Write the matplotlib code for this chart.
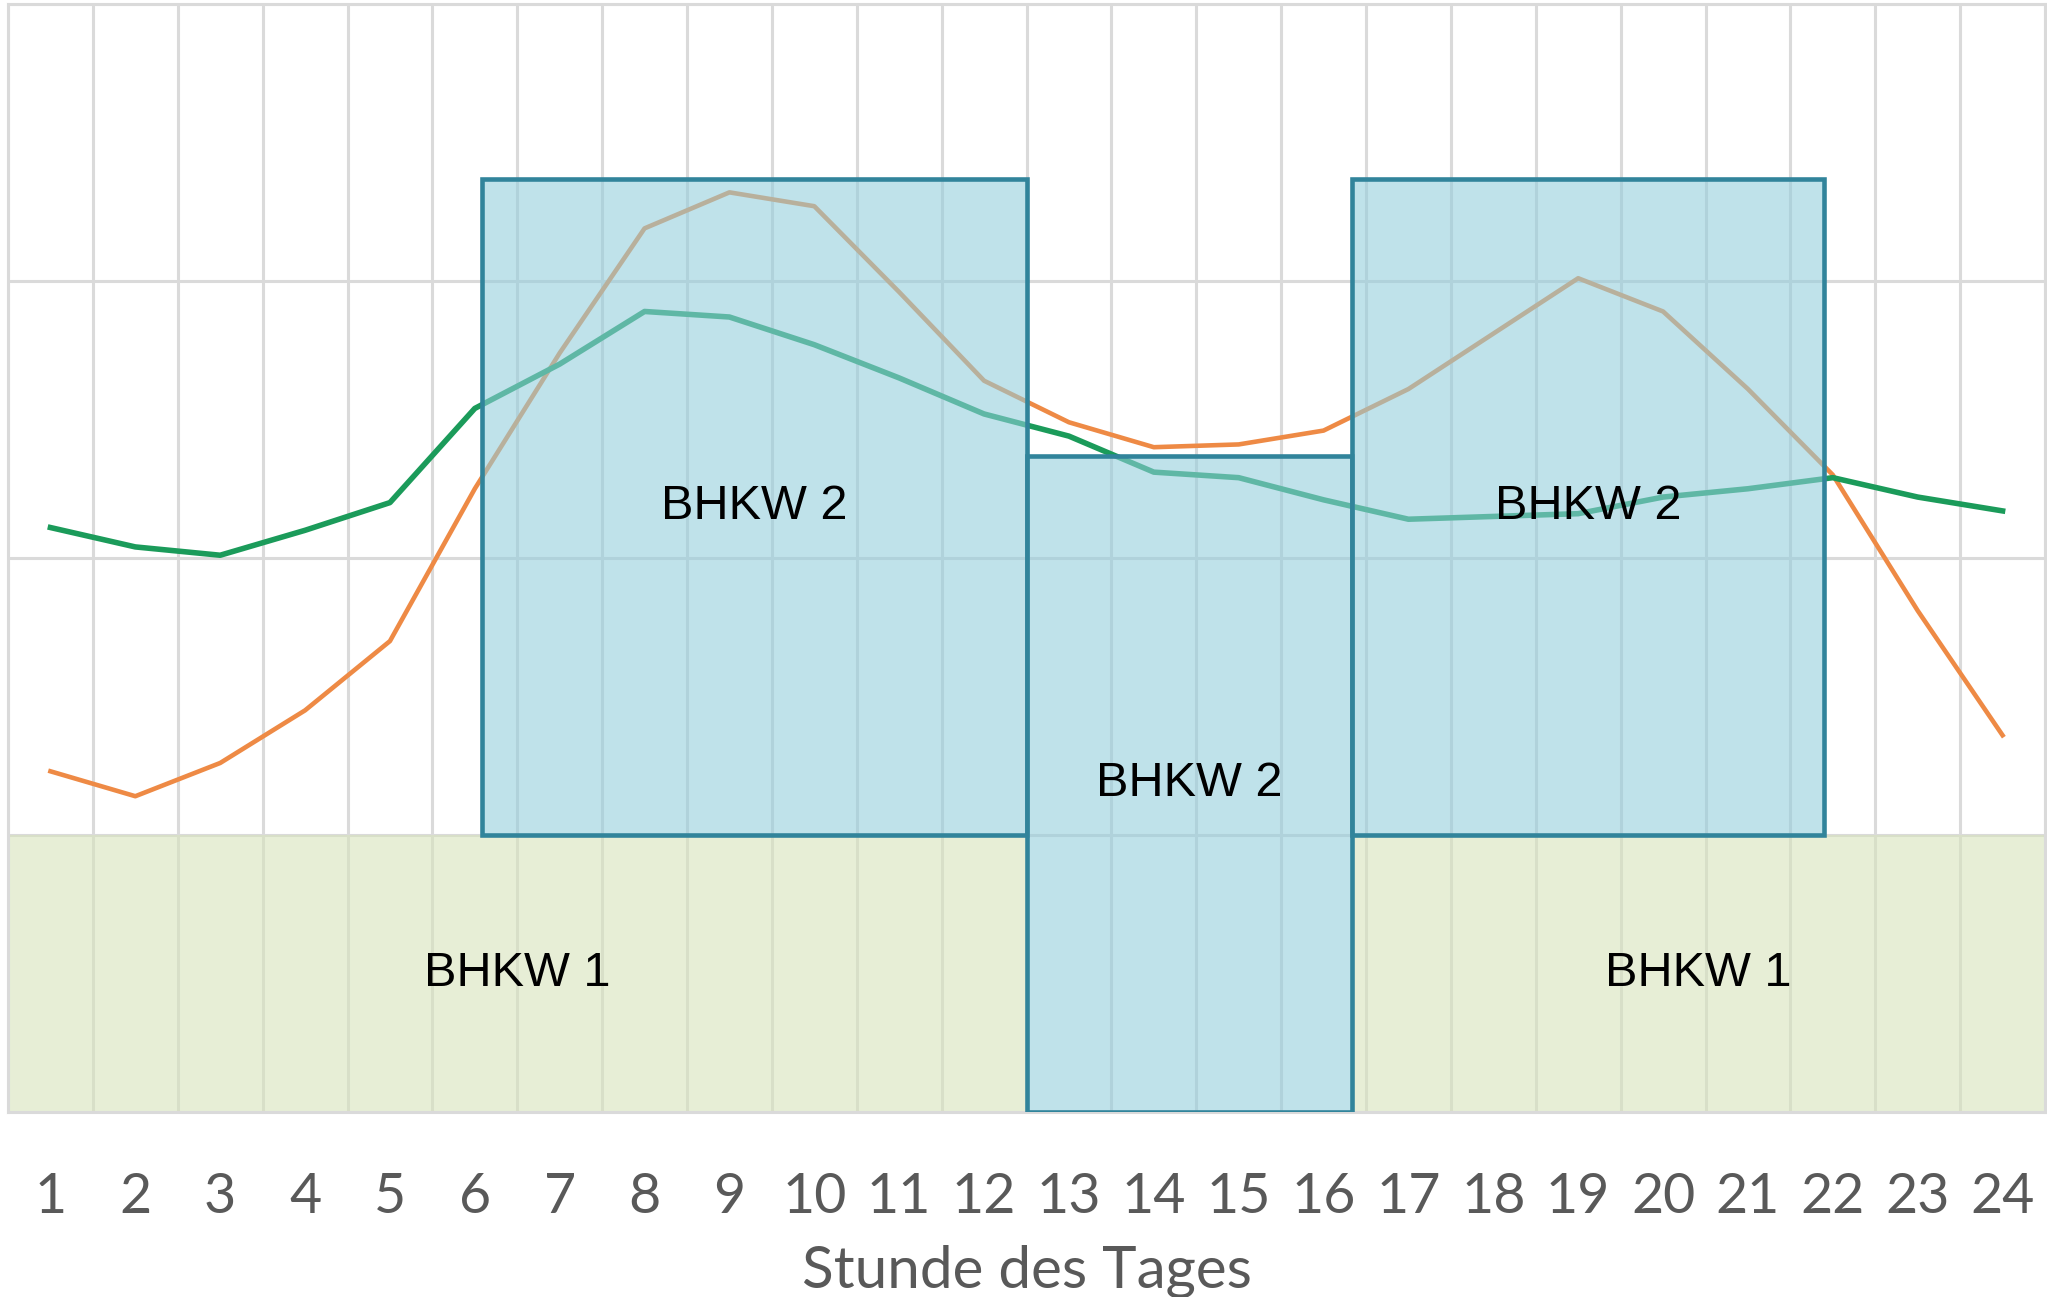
import numpy as np
import matplotlib
matplotlib.use("Agg")
import matplotlib.pyplot as plt

# Stunden des Tages
stunden = list(range(1, 25))

# Lastkurven (Einheit = Gitterabstand)
last_orange = [1.23, 1.14, 1.26, 1.45, 1.70, 2.25, 2.74, 3.19, 3.32, 3.27, 2.96, 2.64,
               2.49, 2.40, 2.41, 2.46, 2.61, 2.81, 3.01, 2.89, 2.61, 2.30, 1.81, 1.36]
last_gruen = [2.11, 2.04, 2.01, 2.10, 2.20, 2.54, 2.70, 2.89, 2.87, 2.77, 2.65, 2.52,
              2.44, 2.31, 2.29, 2.21, 2.14, 2.15, 2.16, 2.22, 2.25, 2.29, 2.22, 2.17]

# BHKW 1 (Grundlast)
bhkw1_start = [0.5, 16.33]
bhkw1_ende = [12.5, 24.5]
bhkw1_leistung = 1.0

# BHKW 2 (Spitzenlast)
bhkw2_start = [6.08, 12.5, 16.33]
bhkw2_ende = [12.5, 16.33, 21.9]
bhkw2_sockel = [1.0, 0.0, 1.0]
bhkw2_leistung = 2.37

fig = plt.figure(figsize=(20.47, 12.97), dpi=100)
ax = fig.add_axes([8/2047, 1 - 1112/1297, (2045 - 8)/2047, (1112 - 4)/1297])

gitter = "#DADADA"
ax.set_xlim(0.5, 24.5)
ax.set_ylim(0, 4)
ax.set_xticks(stunden)
ax.set_xticklabels([str(s) for s in stunden], family="Lato", fontsize=40, color="#595959")
ax.set_xticks(np.arange(0.5, 25, 1), minor=True)
ax.set_yticks(range(0, 5))
ax.set_yticklabels([])
ax.tick_params(axis="both", which="both", length=0)
ax.tick_params(axis="x", pad=43)
ax.grid(True, which="minor", axis="x", color=gitter, lw=2.2, zorder=0.5)
ax.grid(True, which="major", axis="y", color=gitter, lw=2.2, zorder=0.5)
ax.set_axisbelow(True)
for sp in ax.spines.values():
    sp.set_color(gitter)
    sp.set_linewidth(2.2)

# BHKW 1 Band
b1_breite = [e - s for s, e in zip(bhkw1_start, bhkw1_ende)]
ax.bar(bhkw1_start, bhkw1_leistung, width=b1_breite, align="edge",
       color=(0.847, 0.894, 0.737, 0.6), edgecolor="none", zorder=1)

# Kurven
ax.plot(stunden, last_orange, color="#EE8A45", lw=3.3, zorder=2)
ax.plot(stunden, last_gruen, color="#1B9B5A", lw=4.0, zorder=2)

# BHKW 2 Kästen
b2_breite = [e - s for s, e in zip(bhkw2_start, bhkw2_ende)]
ax.bar(bhkw2_start, bhkw2_leistung, width=b2_breite, bottom=bhkw2_sockel, align="edge",
       color=(0.573, 0.804, 0.863, 0.58), edgecolor="#31849B", linewidth=3.3, zorder=3)

# Beschriftungen
for s, e in zip(bhkw1_start, bhkw1_ende):
    ax.text((s + e) / 2, bhkw1_leistung / 2, "BHKW 1", ha="center", va="center",
            family="Liberation Sans", fontsize=35, color="black", zorder=4)
for s, e, b in zip(bhkw2_start, bhkw2_ende, bhkw2_sockel):
    ax.text((s + e) / 2, b + bhkw2_leistung / 2, "BHKW 2", ha="center", va="center",
            family="Liberation Sans", fontsize=35, color="black", zorder=4)

ax.set_xlabel("Stunde des Tages", family="Lato", fontsize=42, color="#595959", labelpad=16)

fig.savefig("out.png", dpi=100, facecolor="white")
